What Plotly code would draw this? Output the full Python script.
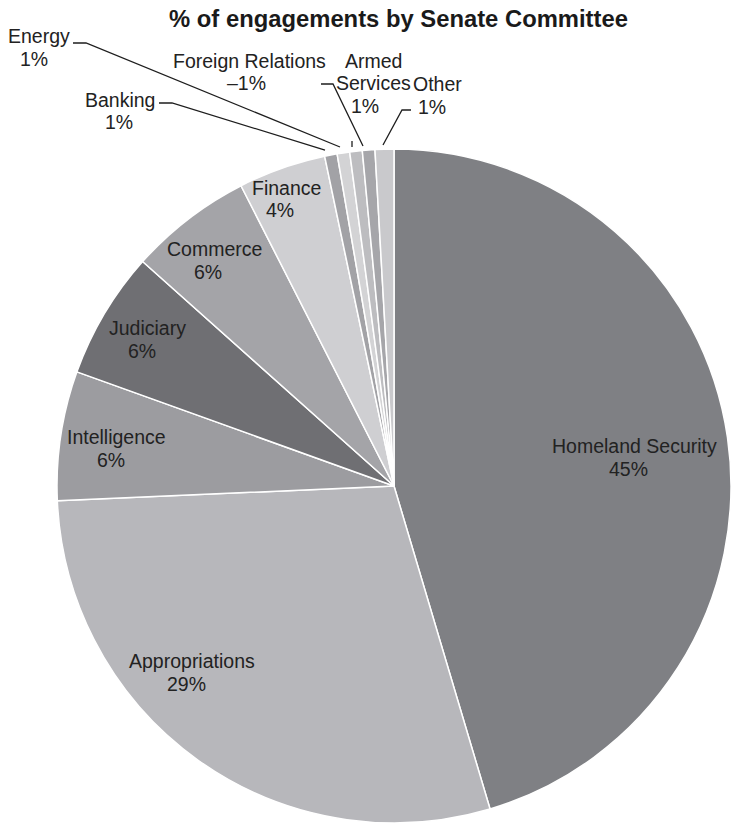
import plotly.graph_objects as go

# ---- data -------------------------------------------------------------
committees = ["Homeland Security", "Appropriations", "Intelligence", "Judiciary",
              "Commerce", "Finance", "Banking", "Energy", "Foreign Relations",
              "Armed Services", "Other"]
shares = [45.4, 28.9, 6.2, 6.1, 5.9, 4.2, 0.6, 0.6, 0.6, 0.6, 0.9]
share_labels = ["45%", "29%", "6%", "6%", "6%", "4%", "1%", "1%", "\u20131%", "1%", "1%"]
name_lines = {"Armed Services": ["Armed", "Services"]}

# ---- styling ----------------------------------------------------------
colors = ["#7f8084", "#b7b7bb", "#9c9ca0", "#6f6f73", "#a4a4a8", "#cfcfd2",
          "#a2a2a6", "#d3d3d5", "#bdbdc0", "#a6a6aa", "#c9c9cc"]

W, H = 731, 831
CX, CY, R = 394, 486, 337          # pie centre / radius in pixels
LABEL_FONT = 19.5
LINE_STEP = 22.5

# label anchors in pixels: (name x, first-line y, percent x)
label_pos = {
    "Homeland Security": (634, 446, 628),
    "Appropriations": (192, 661, 186),
    "Intelligence": (116, 437, 111),
    "Judiciary": (147, 328, 142),
    "Commerce": (214, 249, 208),
    "Finance": (286, 188, 280),
    "Banking": (120, 100, 119),
    "Energy": (39, 36, 34),
    "Foreign Relations": (249, 61, 246),
    "Armed Services": (373, 61, 365),
    "Other": (437, 84, 432),
}

# leader lines for the thin slices, pixel polylines
leaders = {
    "Energy": [(73, 43), (86, 43), (340, 147)],
    "Banking": [(159, 103), (172, 103), (325, 150)],
    "Foreign Relations": [(352, 141), (352, 147)],
    "Armed Services": [(321, 84), (333, 84), (363, 146)],
    "Other": [(411, 110), (402, 110), (383, 145)],
}


def px(x):
    return x / W


def py(y):
    return 1 - y / H


fig = go.Figure(go.Pie(
    labels=committees,
    values=shares,
    sort=False,
    direction="clockwise",
    rotation=0,
    marker=dict(colors=colors, line=dict(color="white", width=1.5)),
    textinfo="none",
    hoverinfo="label+percent",
    showlegend=False,
    domain=dict(x=[(CX - R) / W, min(1.0, (CX + R) / W)],
                y=[(H - CY - R) / H, (H - CY + R) / H]),
))

annotations = []
for name, pct in zip(committees, share_labels):
    x_name, y0, x_pct = label_pos[name]
    lines = name_lines.get(name, [name])
    for i, line in enumerate(lines):
        annotations.append(dict(
            text=line, x=px(x_name), y=py(y0 + i * LINE_STEP),
            xref="paper", yref="paper", xanchor="center", yanchor="middle",
            showarrow=False, font=dict(size=LABEL_FONT, color="#222222")))
    annotations.append(dict(
        text=pct, x=px(x_pct), y=py(y0 + len(lines) * LINE_STEP),
        xref="paper", yref="paper", xanchor="center", yanchor="middle",
        showarrow=False, font=dict(size=LABEL_FONT, color="#222222")))

shapes = []
for name, pts in leaders.items():
    path = "M " + " L ".join(f"{px(x):.5f},{py(y):.5f}" for x, y in pts)
    shapes.append(dict(type="path", path=path, xref="paper", yref="paper",
                       line=dict(color="#1e1e1e", width=1.3)))

fig.update_layout(
    width=W, height=H,
    margin=dict(l=0, r=0, t=0, b=0),
    paper_bgcolor="white",
    plot_bgcolor="white",
    font=dict(family="Liberation Sans, Arial, sans-serif", color="#222222"),
    title=dict(text="<b>% of engagements by Senate Committee</b>",
               x=398.5 / W, y=py(18.5), xanchor="center", yanchor="middle",
               font=dict(size=23.8, color="#1a1a1a")),
    annotations=annotations,
    shapes=shapes,
)

fig.write_html("out.html")
